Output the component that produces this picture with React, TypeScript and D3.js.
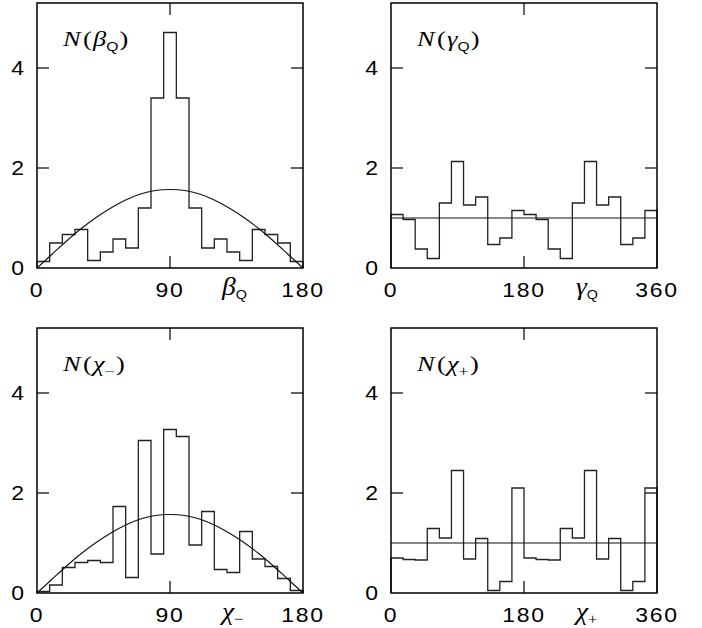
import React from 'react'
import * as d3 from 'd3'

// bin heights
const betaQ = [0.13, 0.5, 0.67, 0.77, 0.15, 0.32, 0.58, 0.4, 1.2, 3.4, 4.71, 3.4, 1.2, 0.4, 0.58, 0.32, 0.15, 0.77, 0.67, 0.5, 0.13];
const gammaQ = [1.07, 0.97, 0.38, 0.19, 1.3, 2.13, 1.26, 1.42, 0.47, 0.6, 1.15, 1.07, 0.97, 0.38, 0.19, 1.3, 2.13, 1.26, 1.42, 0.47, 0.6, 1.15];
const chiMinus = [0.03, 0.16, 0.51, 0.61, 0.65, 0.61, 1.73, 0.31, 3.05, 0.78, 3.27, 3.13, 0.96, 1.63, 0.47, 0.41, 1.23, 0.68, 0.53, 0.29, 0.05];
const chiPlus = [0.7, 0.67, 0.66, 1.29, 1.1, 2.45, 0.68, 1.09, 0.05, 0.23, 2.1, 0.7, 0.67, 0.66, 1.29, 1.1, 2.45, 0.68, 1.09, 0.05, 0.23, 2.1];

// smooth reference curve, sampled every 10 degrees
const curveX = [0, 10, 20, 30, 40, 50, 60, 70, 80, 90, 100, 110, 120, 130, 140, 150, 160, 170, 180];
const curveY = [0, 0.27, 0.54, 0.79, 1.01, 1.2, 1.36, 1.48, 1.55, 1.57, 1.55, 1.48, 1.36, 1.2, 1.01, 0.79, 0.54, 0.27, 0];
// flat reference level
const flatX = [0, 360];
const flatY = [1, 1];

const yTicks = [0, 2, 4];
const ticks180 = [0, 90, 180];
const ticks360 = [0, 180, 360];

const PW = 266, PH = 265;
const yMax = 5.3;

type Panel = {
  left: number; top: number; xMax: number; bins: number[]; ticks: number[];
  refX: number[]; refY: number[]; smooth: boolean; sym: string; sub: string; subSans: boolean;
};

const panels: Panel[] = [
  { left: 37, top: 3, xMax: 180, bins: betaQ, ticks: ticks180, refX: curveX, refY: curveY, smooth: true, sym: 'β', sub: 'Q', subSans: true },
  { left: 391, top: 3, xMax: 360, bins: gammaQ, ticks: ticks360, refX: flatX, refY: flatY, smooth: false, sym: 'γ', sub: 'Q', subSans: true },
  { left: 37, top: 328, xMax: 180, bins: chiMinus, ticks: ticks180, refX: curveX, refY: curveY, smooth: true, sym: 'χ', sub: '−', subSans: false },
  { left: 391, top: 328, xMax: 360, bins: chiPlus, ticks: ticks360, refX: flatX, refY: flatY, smooth: false, sym: 'χ', sub: '+', subSans: false },
];

const serif = '"Liberation Serif", "DejaVu Serif", serif';
const sans = '"Liberation Sans", Arial, sans-serif';

// old postscript look: slightly wide glyphs
const Wide = ({ x, y, s = 1.15, children }: { x: number; y: number; s?: number; children: React.ReactNode }) => (
  <g transform={`translate(${x},${y}) scale(${s},1)`}>{children}</g>
);

function PanelView({ p }: { p: Panel }) {
  const x = d3.scaleLinear().domain([0, p.xMax]).range([p.left, p.left + PW]);
  const y = d3.scaleLinear().domain([0, yMax]).range([p.top + PH, p.top]);
  const n = p.bins.length;
  const w = p.xMax / n;
  const pts: [number, number][] = p.bins.map((v, i) => [i * w, v]);
  pts.push([p.xMax, p.bins[n - 1]]);
  const step = d3.line<[number, number]>().x(d => x(d[0])).y(d => y(d[1])).curve(d3.curveStepAfter);
  const hist = `M${x(0)},${y(0)}` + step(pts)!.replace(/^M/, 'L') + `L${x(p.xMax)},${y(0)}`;
  const ref = d3.line<number>().x((_, i) => x(p.refX[i])).y(d => y(d))
    .curve(p.smooth ? d3.curveCatmullRom : d3.curveLinear)(p.refY)!;
  const bottom = p.top + PH;
  const tickLen = 12;
  const subSize = p.subSans ? 13 : 15;
  const subFont = p.subSans ? sans : serif;
  return (
    <g>
      <path d={hist} fill="none" stroke="#222" strokeWidth={1.3} />
      <path d={ref} fill="none" stroke="#111" strokeWidth={1.1} />
      <rect x={p.left} y={p.top} width={PW} height={PH} fill="none" stroke="#000" strokeWidth={1.5} />
      {p.ticks.slice(1, -1).map(t => (
        <g key={t}>
          <line x1={x(t)} x2={x(t)} y1={bottom} y2={bottom - tickLen} stroke="#000" strokeWidth={1.2} />
          <line x1={x(t)} x2={x(t)} y1={p.top} y2={p.top + tickLen} stroke="#000" strokeWidth={1.2} />
        </g>
      ))}
      {yTicks.slice(1).map(t => (
        <g key={t}>
          <line x1={p.left} x2={p.left + tickLen} y1={y(t)} y2={y(t)} stroke="#000" strokeWidth={1.2} />
          <line x1={p.left + PW} x2={p.left + PW - tickLen} y1={y(t)} y2={y(t)} stroke="#000" strokeWidth={1.2} />
        </g>
      ))}
      {yTicks.map(t => (
        <Wide key={t} x={p.left - 13} y={y(t)}>
          <text dy="0.36em" textAnchor="end" fontFamily={sans} fontSize={20}>{t}</text>
        </Wide>
      ))}
      {p.ticks.map(t => (
        <Wide key={t} x={x(t)} y={bottom + 29}>
          <text textAnchor="middle" fontFamily={sans} fontSize={20} letterSpacing={1.5}>{t}</text>
        </Wide>
      ))}
      <Wide x={p.left + 26} y={p.top + 43} s={1.2}>
        <text fontFamily={serif} fontSize={22}>
          <tspan fontStyle="italic">N</tspan>
          <tspan dx={2}>(</tspan>
          <tspan dx={1} fontStyle="italic">{p.sym}</tspan>
          <tspan dy={5} fontSize={subSize} fontFamily={subFont}>{p.sub}</tspan>
          <tspan dy={-5} dx={1}>)</tspan>
        </text>
      </Wide>
      <Wide x={p.left + 185} y={bottom + 27} s={1.1}>
        <text fontFamily={serif} fontSize={25}>
          <tspan fontStyle="italic">{p.sym}</tspan>
          <tspan dy={4} fontSize={subSize} fontFamily={subFont}>{p.sub}</tspan>
        </text>
      </Wide>
    </g>
  );
}

export default function App() {
  return (
    <svg width={702} height={628} style={{ position: 'absolute', left: 0, top: 0, background: '#fff' }}>
      {panels.map((p, i) => <PanelView key={i} p={p} />)}
    </svg>
  );
}
